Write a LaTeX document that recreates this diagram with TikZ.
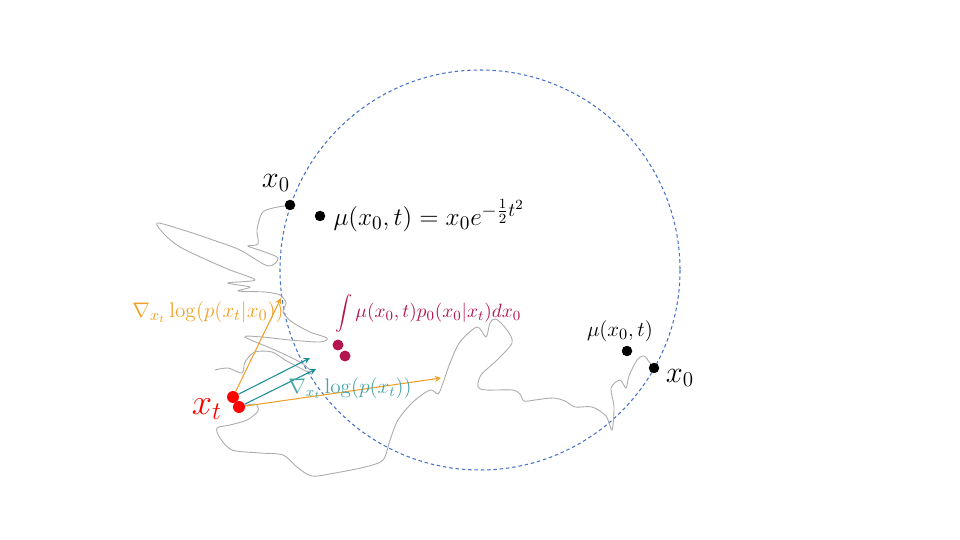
\documentclass[tikz,border=0pt]{standalone}
\usepackage{amsmath}
\usepackage{amssymb}
\usepackage{tikz}
\usetikzlibrary{arrows,positioning}
\usepackage{xcolor}
\definecolor{circblue}{RGB}{70,115,200}
\definecolor{gradorange}{RGB}{240,160,40}
\definecolor{gradteal}{RGB}{25,140,150}
\definecolor{labelteal}{RGB}{70,165,165}
\definecolor{meanpurple}{RGB}{180,20,80}

\begin{document}
\begin{tikzpicture}[x=0.02cm, y=-0.02cm,
  blackdot/.style={circle, fill=black, inner sep=0pt, minimum size=0.21cm},
  reddot/.style={circle, fill=red, inner sep=0pt, minimum size=0.24cm},
  meandot/.style={circle, fill=meanpurple, inner sep=0pt, minimum size=0.22cm},
  walk/.style={draw=black!33, line width=0.5pt},
  ring/.style={draw=circblue, dash pattern=on 2pt off 1.6pt, line width=0.6pt},
  orangegrad/.style={->, >=stealth, draw=gradorange, line width=0.6pt},
  tealgrad/.style={->, >=stealth, draw=gradteal, line width=0.6pt},
  biglabel/.style={font=\fontsize{17}{20}\selectfont},
  smalllabel/.style={font=\fontsize{11.5}{14}\selectfont}]

\useasboundingbox (0,0) rectangle (960,540);

\draw [ring] (480,270) circle [radius=200];

\draw [walk] plot [smooth, tension=0.5] coordinates {(291,205) (273,208) (262,213) (257,230) (258,244) (248,246) (262,251) (278,258) (268,266) (240,250) (213,240) (183,230) (157,223) (165,235) (180,247) (207,260) (230,270) (255,280) (228,283) (250,287) (238,291) (265,292) (280,295) (286,303) (283,312) (292,322) (310,332) (327,338) (320,342) (290,340) (262,337) (245,337) (275,350) (300,362) (310,370)};
\draw [walk] plot [smooth, tension=0.5] coordinates {(215,370) (228,368) (242,373) (245,362) (255,352) (272,352) (285,360) (300,368) (312,374)};
\draw [walk] plot [smooth, tension=0.5] coordinates {(239,407) (255,404) (258,411) (247,420) (230,425) (217,428) (220,438) (232,450) (260,453) (283,455) (297,467) (312,476) (335,473) (365,467) (383,460) (390,440) (398,420) (413,402) (430,390) (438,394) (443,383) (450,363) (460,342) (477,327) (486,337) (490,323) (496,319) (507,330) (512,343) (497,360) (481,375) (478,387) (486,390) (512,390) (520,394) (524,401) (535,400) (553,398) (565,401) (575,407) (592,407) (606,416) (612,430) (614,407) (611,388) (620,380) (626,388) (629,376) (637,360) (644,356) (650,363) (654,368)};

\node (xzeroA) [blackdot] at (290,205) {};
\node (lblxzeroA) [biglabel] at (276,183) {$x_0$};
\node (muA) [blackdot] at (320,216) {};
\node (lblmuA) [biglabel, font=\fontsize{15.5}{18}\selectfont, right=1pt of muA] {$\mu(x_0,t) = x_0 e^{-\frac{1}{2}t^2}$};

\node (muB) [blackdot] at (627,351) {};
\node (lblmuB) [smalllabel, font=\fontsize{13}{15}\selectfont] at (620,331) {$\mu(x_0,t)$};
\node (xzeroB) [blackdot] at (654,368) {};
\node (lblxzeroB) [biglabel] at (680,378) {$x_0$};

\node (meanA) [meandot] at (338,345) {};
\node (meanB) [meandot] at (345,356) {};
\node (lblmean) [smalllabel, font=\fontsize{11.3}{14}\selectfont, text=meanpurple, anchor=west] at (329,313) {\scalebox{0.86}{$\displaystyle\int$}$\,\mu(x_0,t)p_0(x_0|x_t)dx_0$};

\coordinate (tipA) at (281,298);
\coordinate (tipB) at (441,378);
\coordinate (tipC) at (310,358);
\coordinate (tipD) at (316,369);

\node (xtA) [reddot] at (233,397) {};
\node (xtB) [reddot] at (239,407) {};
\node (lblxt) [font=\fontsize{22}{26}\selectfont, text=red] at (207,409) {$x_t$};

\draw [orangegrad] (xtA) -- (tipA);
\draw [orangegrad] (xtB) -- (tipB);
\draw [tealgrad] (xtA) -- (tipC);
\draw [tealgrad] (xtB) -- (tipD);

\node (lblcond) [smalllabel, font=\fontsize{13}{15}\selectfont, text=gradorange] at (208,312) {$\nabla_{x_t}\log(p(x_t|x_0))$};
\node (lblscore) [smalllabel, text=labelteal] at (350,388) {$\nabla_{x_t}\log(p(x_t))$};
\end{tikzpicture}
\end{document}
